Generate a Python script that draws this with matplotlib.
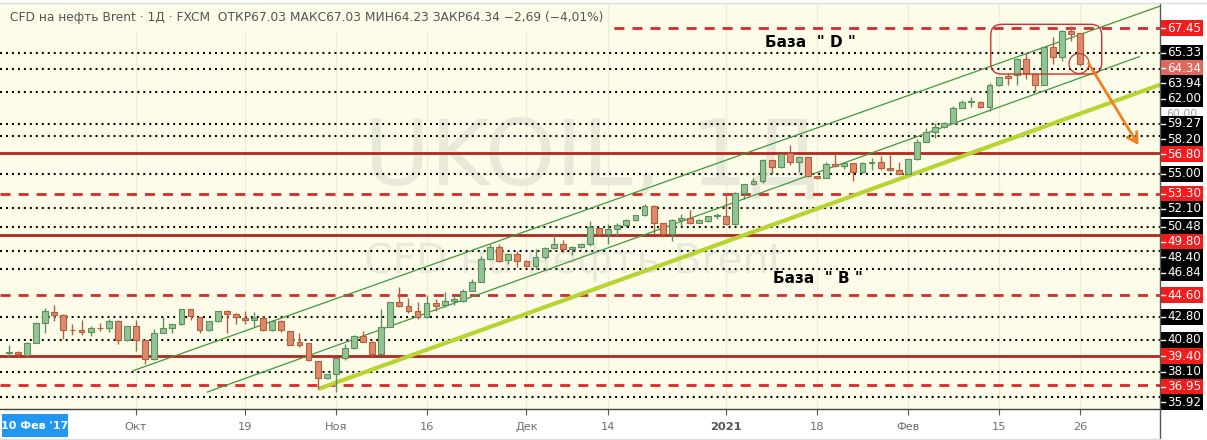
import numpy as np
import pandas as pd
import matplotlib
matplotlib.use("Agg")
import matplotlib.pyplot as plt
import matplotlib.transforms as mtransforms
from matplotlib.patches import Rectangle, FancyBboxPatch, Ellipse, FancyArrowPatch
from matplotlib.lines import Line2D

# ------------------------------------------------------------------ data
dates = pd.bdate_range("2020-09-11", "2021-02-26", freq="C",
                       holidays=["2020-12-25", "2021-01-01"])

opens = [39.70, 39.76, 39.50, 40.58, 42.28, 43.18, 42.96, 41.68, 41.65, 41.45,
         41.80, 41.79, 42.39, 40.78, 41.99, 40.78, 39.13, 41.40, 41.85, 42.14,
         43.41, 42.76, 41.68, 42.39, 43.27, 43.04, 42.70, 42.48, 42.70, 41.68,
         42.39, 41.56, 40.61, 40.50, 39.00, 37.52, 37.89, 39.22, 40.07, 41.14,
         40.63, 39.64, 41.93, 44.01, 43.73, 43.30, 42.73, 43.93, 43.75, 44.12,
         44.12, 45.02, 45.79, 47.72, 48.77, 47.63, 48.14, 47.57, 47.12, 47.86,
         48.62, 48.99, 48.57, 48.70, 48.99, 50.35, 49.84, 50.27, 50.61, 51.03,
         51.49, 52.25, 50.78, 49.84, 51.03, 51.20, 50.83, 51.00, 51.38, 51.40,
         50.69, 53.38, 54.11, 54.37, 56.18, 55.55, 56.79, 55.98, 56.41, 54.83,
         54.63, 55.84, 55.64, 55.93, 55.12, 55.95, 55.98, 55.49, 55.32, 54.97,
         56.23, 57.74, 58.60, 58.99, 59.36, 60.63, 61.12, 61.12, 60.69, 62.57,
         63.33, 63.42, 64.84, 63.56, 62.62, 65.80, 64.95, 67.22, 67.03]
highs = [40.35, 39.85, 40.62, 42.30, 43.55, 43.75, 43.00, 42.19, 42.50, 41.99,
         42.28, 42.62, 42.50, 41.99, 42.50, 40.80, 41.77, 42.76, 42.20, 43.45,
         43.47, 42.80, 42.40, 43.30, 43.38, 43.10, 43.27, 43.18, 42.87, 42.50,
         42.50, 41.60, 41.43, 40.55, 39.02, 37.90, 39.30, 40.49, 41.20, 41.56,
         40.70, 43.42, 44.05, 45.35, 44.40, 44.03, 44.64, 44.27, 44.88, 44.60,
         45.17, 46.02, 48.00, 48.99, 48.99, 48.20, 48.43, 47.60, 48.57, 48.70,
         49.79, 49.33, 48.80, 49.10, 50.98, 50.40, 50.69, 50.83, 51.10, 51.50,
         52.39, 52.30, 50.80, 51.10, 51.54, 51.88, 51.10, 51.40, 51.66, 53.24,
         53.42, 54.15, 54.63, 56.27, 56.20, 56.75, 57.42, 56.45, 56.45, 54.85,
         55.98, 56.70, 56.00, 55.95, 56.00, 56.36, 56.50, 56.56, 55.98, 56.30,
         57.94, 58.87, 59.36, 59.40, 60.80, 61.34, 61.54, 61.20, 62.77, 63.30,
         63.62, 64.90, 65.32, 63.60, 65.85, 66.65, 67.30, 67.59, 67.03]
lows = [39.36, 39.36, 39.36, 40.52, 41.43, 42.42, 40.92, 41.20, 41.20, 41.17,
        41.60, 41.50, 40.44, 40.75, 39.84, 38.73, 39.10, 41.36, 41.36, 42.10,
        42.50, 41.36, 41.60, 42.33, 41.36, 42.19, 42.19, 41.90, 41.60, 41.60,
        41.50, 40.35, 40.18, 39.00, 36.61, 37.43, 36.38, 39.10, 40.00, 40.60,
        39.36, 39.60, 41.90, 43.60, 43.08, 42.60, 42.70, 43.30, 43.60, 43.75,
        44.03, 45.00, 45.75, 47.63, 47.43, 47.29, 47.07, 47.00, 46.90, 47.72,
        48.57, 48.28, 48.09, 48.65, 48.85, 49.70, 48.99, 49.70, 50.41, 51.00,
        51.40, 49.84, 49.56, 49.22, 50.55, 50.70, 50.80, 50.90, 51.10, 50.60,
        50.60, 52.81, 54.05, 54.25, 55.03, 55.50, 55.75, 55.12, 54.74, 54.54,
        54.60, 55.55, 55.41, 54.40, 55.10, 55.32, 55.32, 55.26, 54.95, 54.95,
        56.18, 57.70, 58.08, 58.90, 59.30, 60.60, 60.69, 60.60, 60.35, 62.50,
        62.62, 62.62, 63.13, 62.05, 62.60, 64.38, 64.60, 66.37, 64.23]
closes = [39.75, 39.56, 40.58, 42.28, 43.24, 42.96, 41.68, 41.62, 41.45, 41.79,
          41.78, 42.39, 40.78, 41.99, 40.78, 39.13, 41.43, 41.85, 42.14, 43.41,
          42.85, 41.68, 42.39, 43.27, 43.04, 42.76, 42.48, 42.70, 41.68, 42.39,
          41.62, 40.41, 40.41, 39.07, 37.52, 37.89, 39.22, 40.07, 41.14, 40.63,
          39.64, 41.93, 44.01, 43.73, 43.30, 42.73, 43.93, 43.73, 44.12, 44.30,
          45.02, 45.79, 47.72, 48.77, 47.57, 48.14, 47.52, 47.12, 47.86, 48.62,
          48.99, 48.57, 48.77, 48.99, 50.41, 49.84, 50.27, 50.61, 51.03, 51.49,
          52.25, 50.75, 49.84, 51.03, 51.20, 50.83, 51.03, 51.35, 51.42, 50.69,
          53.38, 54.11, 54.40, 56.18, 55.55, 56.70, 55.98, 56.41, 54.83, 54.63,
          55.84, 55.67, 55.93, 55.12, 55.93, 55.98, 55.49, 55.32, 54.97, 56.23,
          57.74, 58.56, 58.99, 59.36, 60.63, 61.12, 61.15, 60.69, 62.57, 63.25,
          63.19, 64.84, 63.62, 62.62, 65.80, 64.95, 67.22, 66.97, 64.34]

tick_dates = ["2020-10-01", "2020-10-19", "2020-11-02", "2020-11-16", "2020-12-01",
              "2020-12-14", "2021-01-04", "2021-01-18", "2021-02-01", "2021-02-15",
              "2021-02-26"]
tick_labels = ["Окт", "19", "Ноя", "16", "Дек", "14", "2021", "18", "Фев", "15", "26"]

levels_red_dashed = [67.45, 53.30, 44.60, 36.95]
levels_red_solid = [56.80, 49.80, 39.40]
levels_dotted = [65.33, 63.94, 62.00, 59.27, 58.20, 55.00, 52.10, 50.48, 48.40,
                 46.84, 42.80, 40.80, 38.10, 35.92]

# trend drawings: (bar index, price) anchors
upper_channel = [(13.67, 38.17), (126.8, 69.33)]
lower_channel = [(21.78, 36.33), (124.57, 65.03)]
support_line = [(34.07, 36.61), (126.8, 62.61)]
base_box = [(108.13, 63.52), (120.35, 67.77)]
circle_mark = (117.85, 64.42)
arrow_pts = [(118.9, 64.43), (124.4, 57.45)]

title_text = ("CFD на нефть Brent · 1Д · FXCM  ОТКР67.03 МАКС67.03 МИН64.23 "
              "ЗАКР64.34 −2,69 (−4,01%)")

# ------------------------------------------------------------------ figure
W, H = 1207, 440
fig = plt.figure(figsize=(W / 100, H / 100), dpi=100, facecolor="white")
ax_left, ax_right, ax_top, ax_bot = 0, 1160, 3, 409
ax = fig.add_axes([ax_left / W, 1 - ax_bot / H, (ax_right - ax_left) / W,
                   (ax_bot - ax_top) / H])
bg = "#fcfce8"
ax.set_facecolor(bg)
ymin, ymax = 34.90, 69.59
xmin, xmax = -0.98, 126.77
ax.set_xlim(xmin, xmax)
ax.set_ylim(ymin, ymax)
ppu = (ax_bot - ax_top) / (ymax - ymin)  # pixels per price unit

x = np.arange(len(dates))
o = np.array(opens); h = np.array(highs); l = np.array(lows); c = np.array(closes)

# ticks / grid
tick_pos = [int(dates.searchsorted(pd.Timestamp(d))) for d in tick_dates]
ax.set_xticks(tick_pos, tick_labels)
ax.tick_params(axis="x", direction="out", length=4, width=0.8, color="#555555",
               labelsize=8.2, labelcolor="#6d6d6d", pad=5)
for lab in ax.get_xticklabels():
    if lab.get_text() == "2021":
        lab.set_fontweight("bold")
        lab.set_color("#555555")
ax.set_yticks([])
for xv in tick_pos:
    ax.axvline(xv, color="#eeeed8", lw=1, zorder=0)
for s in ["top", "left", "right"]:
    ax.spines[s].set_visible(False)
ax.spines["bottom"].set_color("#444444")
ax.spines["bottom"].set_linewidth(1.0)

# watermark
wm1 = ax.text(0.51, 0.613, "UKOIL, 1Д", transform=ax.transAxes, ha="center",
              va="center", fontsize=66, color="#e9e9da", zorder=0.5)
wm2 = ax.text(0.495, 0.362, "CFD на нефть Brent", transform=ax.transAxes,
              ha="center", va="center", fontsize=36, color="#e9e9da", zorder=0.5)

# horizontal levels
lw_d = 2.0
for lv in levels_red_dashed:
    ax.axhline(lv, color="#d92a2a", lw=lw_d,
               linestyle=(0, (7.2 / lw_d, 5.8 / lw_d)), zorder=1)
for lv in levels_red_solid:
    ax.axhline(lv, color="#b3261e", lw=2.0, zorder=1)
lw_p = 1.5
for lv in levels_dotted:
    ax.axhline(lv, color="black", lw=lw_p, linestyle=(0, (1.4 / lw_p, 2.9 / lw_p)),
               dash_capstyle="butt", zorder=1)

# trend lines
for pts, col, lw in [(upper_channel, "#3c9a3c", 0.9), (lower_channel, "#3c9a3c", 0.9),
                     (support_line, "#b8d432", 3.0)]:
    ax.plot([pts[0][0], pts[1][0]], [pts[0][1], pts[1][1]], color=col, lw=lw,
            zorder=2, solid_capstyle="butt")

# candles
up = c >= o
g_fill, g_edge = "#94c494", "#5b8f5b"
r_fill, r_edge = "#e2886a", "#b0603f"
ax.vlines(x[up], l[up], h[up], color=g_edge, lw=1.0, zorder=3)
ax.vlines(x[~up], l[~up], h[~up], color=r_edge, lw=1.0, zorder=3)
body_lo = np.minimum(o, c)
body_h = np.maximum(np.abs(c - o), 0.06)
ax.bar(x[up], body_h[up], bottom=body_lo[up], width=0.64, color=g_fill,
       edgecolor=g_edge, linewidth=0.8, zorder=4)
ax.bar(x[~up], body_h[~up], bottom=body_lo[~up], width=0.64, color=r_fill,
       edgecolor=r_edge, linewidth=0.8, zorder=4)

# annotations
aspect = (ax_right - ax_left) / (xmax - xmin) / ppu
(bx0, by0), (bx1, by1) = base_box
box = FancyBboxPatch((bx0, by0), bx1 - bx0, by1 - by0,
                     boxstyle="round,pad=0,rounding_size=1.2",
                     mutation_aspect=aspect, fill=False, edgecolor="#d0312d",
                     lw=1.0, zorder=5)
ax.add_patch(box)
ax.add_patch(Ellipse(circle_mark, 20 / ((ax_right - ax_left) / (xmax - xmin)),
                     20 / ppu, fill=False, edgecolor="#d0312d", lw=0.9, zorder=5))
ax.add_patch(FancyArrowPatch(arrow_pts[0], arrow_pts[1],
                             arrowstyle="->,head_length=7,head_width=4",
                             color="#f07f1f", lw=2.0, zorder=5, shrinkA=0, shrinkB=0))

ax.text(83.3, 66.25, 'База  " D "', fontsize=11, fontweight="bold", color="black",
        ha="left", va="center", zorder=6)
ax.text(84.2, 46.09, 'База  " B "', fontsize=11, fontweight="bold", color="black",
        ha="left", va="center", zorder=6)

# title with background hiding the line under it
fig.patches.append(Rectangle((0, 1 - 31 / H), 607 / W, 26 / H, transform=fig.transFigure,
                             facecolor=bg, edgecolor="none", zorder=2))
title = fig.text(10 / W, 1 - 17 / H, title_text, fontsize=10, color="#555555",
                 ha="left", va="center", zorder=3)

# right price labels
trans = mtransforms.blended_transform_factory(ax.transAxes, ax.transData)
ax.text(1 + 22 / 1160, 60.12, "60.00", transform=trans, ha="center", va="center",
        fontsize=7.8, color="#a0a0a0", clip_on=False, zorder=7)
labels = ([(v, "#f21c1c") for v in levels_red_dashed + levels_red_solid]
          + [(v, "#000000") for v in levels_dotted]
          + [(closes[-1], "#e0685a")])
labels.sort(key=lambda t: -t[0])
spacing = 15.3 / ppu
prev = None
bw = 43 / 1160
bh = 16 / ppu
for v, col in labels:
    yv = v if prev is None else min(v, prev - spacing)
    prev = yv
    ax.add_patch(Rectangle((1.0, yv - bh / 2), bw, bh, transform=trans,
                           facecolor=col, edgecolor="none", clip_on=False, zorder=8))
    ax.add_line(Line2D([1.0, 1.0 + 5 / 1160], [yv, yv], transform=trans, color="white",
                       lw=1.0, clip_on=False, zorder=9))
    ax.text(1 + 24 / 1160, yv, f"{v:.2f}", transform=trans, ha="center", va="center",
            fontsize=8.6, color="white", clip_on=False, zorder=9)

# right axis line & frame lines
fig.add_artist(Line2D([1160 / W, 1160 / W], [0, 1 - 3 / H], transform=fig.transFigure,
                      color="#555555", lw=1.0))
fig.add_artist(Line2D([0, 1], [1 - 3 / H, 1 - 3 / H], transform=fig.transFigure,
                      color="#dddddd", lw=1.0))
fig.add_artist(Line2D([0, 1160 / W], [1 / H, 1 / H], transform=fig.transFigure,
                      color="#dddddd", lw=1.0))

# date crosshair label
fig.patches.append(Rectangle((2 / W, 1 - 437 / H), 66 / W, 23 / H, transform=fig.transFigure,
                             facecolor="#2196f3", edgecolor="none", zorder=5))
fig.text(35 / W, 1 - 425.5 / H, "10 Фев '17", ha="center", va="center", fontsize=8,
         fontweight="bold", color="white", zorder=6)

# fit text widths
fig.canvas.draw()
r = fig.canvas.get_renderer()
for t, target in [(title, 593), (wm1, 455), (wm2, 420)]:
    w = t.get_window_extent(r).width
    t.set_fontsize(t.get_fontsize() * target / w)

fig.savefig("out.png", dpi=100, facecolor="white")
